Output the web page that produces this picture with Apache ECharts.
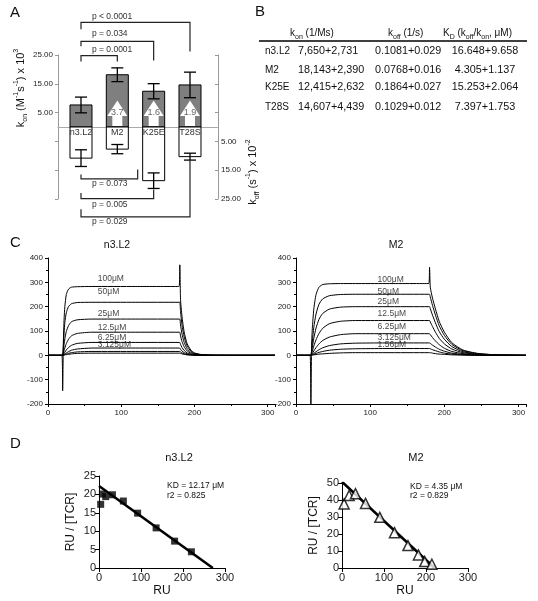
<!DOCTYPE html>
<html><head><meta charset="utf-8">
<script src="https://cdn.jsdelivr.net/npm/echarts@6/dist/echarts.min.js"></script>
<style>html,body{margin:0;padding:0;background:#fff}#c{width:538px;height:601px}</style>
</head><body><div id="c"></div>
<script>
// ================= DATA =================
// ---- Panel A: kinetic rates ----
const variants  = ['n3.L2', 'M2', 'K25E', 'T28S'];
const konMean   = [7.650, 18.143, 12.415, 14.607];   // x10^3 M^-1 s^-1
const konSD     = [2.731, 2.390, 2.632, 4.439];
const koffMean  = [10.81, 7.68, 18.64, 10.29];       // x10^-2 s^-1
const koffSD    = [2.9, 1.6, 2.7, 1.2];
const foldUp    = ['', '3.7', '1.6', '1.9'];
const konPairs  = [[0, 3, 'p < 0.0001'], [0, 2, 'p = 0.034'], [0, 1, 'p = 0.0001']];
const koffPairs = [[0, 1.56, 'p = 0.073'], [0, 2, 'p = 0.005'], [0, 3, 'p = 0.029']];

// ---- Panel B: table ----
const tableRows = ['n3.L2', 'M2', 'K25E', 'T28S'];
const konCol    = ['7,650+2,731', '18,143+2,390', '12,415+2,632', '14,607+4,439'];
const koffCol   = ['0.1081+0.029', '0.0768+0.016', '0.1864+0.027', '0.1029+0.012'];
const kdCol     = ['16.648+9.658', '4.305+1.137', '15.253+2.064', '7.397+1.753'];

// ---- Panel C: sensorgrams (time s, RU) ----
const tN3 = [0, 19, 20, 21, 22, 23, 25, 28, 32, 40, 60, 120, 179, 180, 181, 183, 186, 190, 195, 200, 210, 225, 250, 310];
const n3Curves = [
  [0, 0, -146, 60, 150, 200, 250, 272, 280, 282, 283, 283, 283, 372, 230, 160, 95, 48, 22, 10, 3, 1, 0, 0],
  [0, 0, 0, 40, 95, 135, 175, 200, 212, 217, 218, 218, 218, 218, 180, 125, 75, 38, 18, 8, 2, 0, 0, 0],
  [0, 0, 0, 20, 45, 68, 98, 122, 138, 146, 149, 149, 149, 149, 125, 88, 53, 27, 13, 6, 2, 0, 0, 0],
  [0, 0, 0, 8, 20, 30, 48, 66, 80, 90, 95, 95, 95, 95, 80, 57, 35, 18, 9, 4, 1, 0, 0, 0],
  [0, 0, 0, 4, 8, 13, 22, 32, 41, 49, 53, 53, 53, 53, 45, 32, 20, 10, 5, 2, 1, 0, 0, 0],
  [0, 0, 0, 2, 4, 6, 10, 15, 21, 26, 30, 30, 30, 30, 25, 18, 11, 6, 3, 1, 0, 0, 0, 0],
  [0, 0, 0, 1, 2, 3, 5, 8, 11, 14, 16, 16, 16, 16, 14, 10, 6, 3, 2, 1, 0, 0, 0, 0],
  [0, 0, 0, 0, 1, 2, 3, 4, 6, 8, 9, 9, 9, 9, 8, 6, 4, 2, 1, 0, 0, 0, 0, 0]
];
const n3Conc = ['100μM', '50μM', '25μM', '12.5μM', '6.25μM', '3.125μM'];

const tM2 = [0, 19, 20, 21, 22, 24, 27, 31, 36, 45, 60, 80, 120, 179, 180, 181, 184, 188, 193, 200, 210, 225, 245, 270, 310];
const m2Curves = [
  [0, 0, -230, 40, 110, 190, 250, 280, 291, 294, 295, 295, 295, 295, 362, 280, 235, 190, 140, 95, 52, 22, 8, 2, 0],
  [0, 0, 0, 20, 55, 115, 170, 210, 232, 245, 250, 251, 251, 251, 251, 240, 205, 165, 122, 82, 45, 19, 7, 2, 0],
  [0, 0, 0, 12, 32, 70, 112, 148, 172, 190, 198, 200, 200, 200, 200, 192, 165, 133, 98, 66, 36, 15, 5, 1, 0],
  [0, 0, 0, 6, 16, 38, 64, 90, 111, 130, 140, 143, 143, 143, 143, 137, 118, 95, 70, 47, 26, 11, 4, 1, 0],
  [0, 0, 0, 3, 7, 18, 32, 47, 61, 75, 85, 89, 89, 89, 89, 85, 73, 59, 44, 29, 16, 7, 2, 0, 0],
  [0, 0, 0, 1, 3, 8, 15, 23, 31, 40, 47, 50, 51, 51, 51, 49, 42, 34, 25, 17, 9, 4, 1, 0, 0],
  [0, 0, 0, 1, 2, 4, 8, 12, 16, 21, 25, 27, 28, 28, 28, 27, 23, 19, 14, 9, 5, 2, 1, 0, 0],
  [0, 0, 0, 0, 1, 2, 3, 5, 6, 8, 10, 11, 11, 11, 11, 11, 9, 7, 5, 4, 2, 1, 0, 0, 0]
];
const m2Conc = ['100μM', '50μM', '25μM', '12.5μM', '6.25μM', '3.125μM', '1.56μM'];

// ---- Panel D: Scatchard ----
const n3RU    = [4, 8, 16, 32, 58, 92, 136, 180, 220];
const n3Ratio = [17.3, 20.1, 19.4, 19.9, 18.2, 14.9, 10.9, 7.3, 4.4];
const n3Fit   = [[0, 22.3], [271, 0]];
const m2RU    = [5, 17, 32, 56, 90, 125, 157, 182, 197, 214];
const m2Ratio = [37.7, 42.7, 43.7, 38.0, 29.8, 20.8, 13.2, 7.7, 3.8, 2.2];
const m2Fit   = [[0, 50.7], [220.5, 0]];

// ================= LAYOUT (positions / styles) =================
const FONT = '"Liberation Sans", Arial, sans-serif';
const konLevels  = [{bar: 36.3, l: 33.9, r: 26.2, t: 38.4}, {bar: 29.7, l: 28.0, r: 23.1, t: 32.5}, {bar: 24.8, l: 22.7, r: 22.7, t: 26.7}];
const koffLevels = [{bar: -18.0, l: -16.5, r: -14.8, t: -19.6}, {bar: -24.9, l: -22.9, r: -21.7, t: -26.9}, {bar: -31.2, l: -28.6, r: -11.3, t: -32.8}];
const arrowGeom  = {tip: 9.2, base: 3.8, text: 5.0};
const n3LabelAt = {t: 68, y: [316, 261, 172, 115, 73, 43]};
const m2LabelAt = {t: 110, y: [311, 261, 219, 173, 116, 72, 42]};

const chart = echarts.init(document.getElementById('c'));

function T(x, y, text, size, extra) {
  const e = {type: 'text', x: x, y: y, silent: true, z: 100,
    style: {text: text, fontSize: size, fontFamily: FONT, fill: '#111', align: 'left', verticalAlign: 'middle'}};
  if (extra) { Object.assign(e.style, extra.style || {}); if (extra.rotation) e.rotation = extra.rotation; }
  return e;
}
const richBase = (n, s) => ({
  n: {fontSize: n, fontFamily: FONT, lineHeight: n + 5},
  sb: {fontSize: s, fontFamily: FONT, lineHeight: s + 1, verticalAlign: 'bottom'},
  sp: {fontSize: s, fontFamily: FONT, lineHeight: s + 1, verticalAlign: 'top'}
});

const graphics = [
  T(10, 13, 'A', 15), T(255, 12, 'B', 15), T(10, 243, 'C', 15), T(10, 444, 'D', 15),
  // Panel A axis titles
  T(21, 88, '{n|k}{sb|on}{n| (M}{sp|-1}{n|s}{sp|-1}{n|) x 10}{sp|3}', 11,
    {rotation: Math.PI / 2, style: {align: 'center', rich: richBase(11, 7)}}),
  T(253, 172, '{n|k}{sb|off}{n| (s}{sp|-1}{n|) x 10}{sp|-2}', 11,
    {rotation: Math.PI / 2, style: {align: 'center', rich: richBase(11, 7)}}),
  // Panel B headers
  T(290, 33, '{n|k}{sb|on}{n| (1/Ms)}', 10, {style: {rich: richBase(10, 7)}}),
  T(388, 33, '{n|k}{sb|off}{n| (1/s)}', 10, {style: {rich: richBase(10, 7)}}),
  T(443, 33, '{n|K}{sb|D}{n| (k}{sb|off}{n|/k}{sb|on}{n|, μM)}', 10, {style: {rich: richBase(10, 7)}}),
  {type: 'line', silent: true, shape: {x1: 259, y1: 41, x2: 527, y2: 41}, style: {stroke: '#000', lineWidth: 1.4}},
  // Panel C titles
  T(117, 245, 'n3.L2', 10.5, {style: {align: 'center'}}),
  T(396, 245, 'M2', 10.5, {style: {align: 'center'}}),
  // Panel D titles + annotations
  T(179, 458, 'n3.L2', 11, {style: {align: 'center'}}),
  T(416, 458, 'M2', 11, {style: {align: 'center'}}),
  T(167, 486, 'KD = 12.17 μM', 8.5), T(167, 495.5, 'r2 = 0.825', 8.5),
  T(410, 487, 'KD = 4.35 μM', 8.5), T(410, 496, 'r2 = 0.829', 8.5)
];
const rowY = [51, 70, 87, 107];
tableRows.forEach((r, i) => {
  graphics.push(T(265, rowY[i], r, 10));
  graphics.push(T(298, rowY[i], konCol[i], 10.8));
  graphics.push(T(375, rowY[i], koffCol[i], 10.8));
  graphics.push(T(485, rowY[i], kdCol[i], 10.8, {style: {align: 'center'}}));
});

const lbl = (size) => ({fontSize: size, fontFamily: FONT, color: '#222'});

// ---- Panel A custom series ----
function barRender(fill) {
  return function (params, api) {
    const x = api.value(0), v = api.value(1);
    const top = api.coord([x, v]), base = api.coord([x, 0]);
    return {type: 'rect', shape: {x: top[0] - 11, y: Math.min(top[1], base[1]), width: 22, height: Math.abs(base[1] - top[1])},
      style: {fill: fill, stroke: '#000', lineWidth: 1}};
  };
}
function errRender(params, api) {
  const x = api.value(0), m = api.value(1), s = api.value(2);
  const hi = api.coord([x, m + s]), lo = api.coord([x, m - s]);
  const st = {stroke: '#000', lineWidth: 1.3, fill: null};
  return {type: 'group', children: [
    {type: 'line', shape: {x1: hi[0], y1: hi[1], x2: lo[0], y2: lo[1]}, style: st},
    {type: 'line', shape: {x1: hi[0] - 6, y1: hi[1], x2: hi[0] + 6, y2: hi[1]}, style: st},
    {type: 'line', shape: {x1: lo[0] - 6, y1: lo[1], x2: lo[0] + 6, y2: lo[1]}, style: st}
  ]};
}
function arrowRender(params, api) {
  const i = api.value(0);
  const tip = api.coord([i, arrowGeom.tip]), hb = api.coord([i, arrowGeom.base]), z0 = api.coord([i, 0]), tx = api.coord([i, arrowGeom.text]);
  const cx = tip[0];
  return {type: 'group', children: [
    {type: 'polygon', shape: {points: [[cx, tip[1]], [cx + 10, hb[1]], [cx + 5, hb[1]], [cx + 5, z0[1] - 1], [cx - 5, z0[1] - 1], [cx - 5, hb[1]], [cx - 10, hb[1]]]},
      style: {fill: '#fff', stroke: null}},
    {type: 'text', x: cx, y: tx[1], style: {text: foldUp[i], fontSize: 9, fontFamily: FONT, fill: '#666', align: 'center', verticalAlign: 'middle'}}
  ]};
}
function catRender(params, api) {
  const i = api.value(0);
  const p = api.coord([i, -1.9]);
  return {type: 'text', x: p[0], y: p[1], style: {text: variants[i], fontSize: 9, fontFamily: FONT, fill: '#333', align: 'center', verticalAlign: 'middle'}};
}
function bracketRender(pairs, levels) {
  return function (params, api) {
    const k = api.value(0);
    const pr = pairs[k], lv = levels[k];
    const a1 = api.coord([pr[0], lv.l]), a2 = api.coord([pr[0], lv.bar]);
    const b2 = api.coord([pr[1], lv.bar]), b1 = api.coord([pr[1], lv.r]);
    const tp = api.coord([pr[0] + 0.3, lv.t]);
    return {type: 'group', children: [
      {type: 'polyline', shape: {points: [a1, a2, b2, b1]}, style: {stroke: '#222', lineWidth: 1.2, fill: null}},
      {type: 'text', x: tp[0], y: tp[1], style: {text: pr[2], fontSize: 8.5, fontFamily: FONT, fill: '#333', align: 'left', verticalAlign: 'middle'}}
    ]};
  };
}

const series = [
  {type: 'custom', xAxisIndex: 0, yAxisIndex: 0, z: 2, renderItem: barRender('#7f7f7f'), data: konMean.map((v, i) => [i, v])},
  {type: 'custom', xAxisIndex: 0, yAxisIndex: 0, z: 2, renderItem: barRender('#fff'), data: koffMean.map((v, i) => [i, -v])},
  {type: 'custom', xAxisIndex: 0, yAxisIndex: 0, z: 3, renderItem: arrowRender, data: foldUp.map((f, i) => [i]).filter(d => foldUp[d[0]])},
  {type: 'custom', xAxisIndex: 0, yAxisIndex: 0, z: 4, renderItem: errRender, data: konMean.map((v, i) => [i, v, konSD[i]]).concat(koffMean.map((v, i) => [i, -v, koffSD[i]]))},
  {type: 'custom', xAxisIndex: 0, yAxisIndex: 0, z: 4, renderItem: catRender, data: variants.map((v, i) => [i])},
  {type: 'custom', xAxisIndex: 0, yAxisIndex: 0, z: 4, renderItem: bracketRender(konPairs, konLevels), data: konPairs.map((p, i) => [i])},
  {type: 'custom', xAxisIndex: 0, yAxisIndex: 0, z: 4, renderItem: bracketRender(koffPairs, koffLevels), data: koffPairs.map((p, i) => [i])}
];

n3Curves.forEach((c) => series.push({type: 'line', xAxisIndex: 1, yAxisIndex: 2, symbol: 'none', smooth: 0.2,
  lineStyle: {color: '#000', width: 1}, data: tN3.map((t, k) => [t, c[k]])}));
m2Curves.forEach((c) => series.push({type: 'line', xAxisIndex: 2, yAxisIndex: 3, symbol: 'none', smooth: 0.2,
  lineStyle: {color: '#000', width: 1}, data: tM2.map((t, k) => [t, c[k]])}));
series.push({type: 'scatter', xAxisIndex: 1, yAxisIndex: 2, symbolSize: 0, z: 5,
  label: {show: true, position: 'right', distance: 0, formatter: '{b}', fontSize: 8.5, fontFamily: FONT, color: '#111'},
  data: n3Conc.map((s, i) => ({name: s, value: [n3LabelAt.t, n3LabelAt.y[i]]}))});
series.push({type: 'scatter', xAxisIndex: 2, yAxisIndex: 3, symbolSize: 0, z: 5,
  label: {show: true, position: 'right', distance: 0, formatter: '{b}', fontSize: 8.5, fontFamily: FONT, color: '#111'},
  data: m2Conc.map((s, i) => ({name: s, value: [m2LabelAt.t, m2LabelAt.y[i]]}))});

series.push({type: 'line', xAxisIndex: 3, yAxisIndex: 4, symbol: 'none', lineStyle: {color: '#000', width: 2.6}, data: n3Fit});
series.push({type: 'scatter', xAxisIndex: 3, yAxisIndex: 4, symbol: 'rect', symbolSize: 7, itemStyle: {color: '#000'}, z: 5,
  data: n3RU.map((x, i) => [x, n3Ratio[i]])});
series.push({type: 'line', xAxisIndex: 4, yAxisIndex: 5, symbol: 'none', lineStyle: {color: '#000', width: 2.6}, data: m2Fit});
series.push({type: 'scatter', xAxisIndex: 4, yAxisIndex: 5, symbol: 'triangle', symbolSize: 10, z: 5,
  itemStyle: {color: '#fff', borderColor: '#000', borderWidth: 1.5}, data: m2RU.map((x, i) => [x, m2Ratio[i]])});

const cX = (gi) => ({gridIndex: gi, type: 'value', min: 0, max: 310, interval: 100,
  axisLine: {show: true, onZero: false, lineStyle: {color: '#000', width: 1}},
  axisTick: {show: true, length: 3, lineStyle: {color: '#000'}},
  minorTick: {show: true, splitNumber: 2, length: 2, lineStyle: {color: '#000'}},
  axisLabel: Object.assign({margin: 5, showMaxLabel: false}, lbl(8)), splitLine: {show: false}});
const cY = (gi) => ({gridIndex: gi, type: 'value', min: -200, max: 400, interval: 100,
  axisLine: {show: true, onZero: false, lineStyle: {color: '#000', width: 1}},
  axisTick: {show: true, length: 3, lineStyle: {color: '#000'}},
  minorTick: {show: true, splitNumber: 2, length: 2, lineStyle: {color: '#000'}},
  axisLabel: Object.assign({margin: 5}, lbl(8)), splitLine: {show: false}});
const dX = (gi) => ({gridIndex: gi, type: 'value', min: 0, max: 300, interval: 100,
  name: 'RU', nameLocation: 'middle', nameGap: 17, nameTextStyle: {fontSize: 12, fontFamily: FONT, color: '#111'},
  axisLine: {show: true, onZero: false, lineStyle: {color: '#000', width: 1}},
  axisTick: {show: true, length: 4, lineStyle: {color: '#000'}},
  axisLabel: Object.assign({margin: 4}, lbl(11)), splitLine: {show: false}});
const dY = (gi, max, iv) => ({gridIndex: gi, type: 'value', min: 0, max: max, interval: iv,
  name: 'RU / [TCR]', nameLocation: 'middle', nameGap: 22, nameTextStyle: {fontSize: 12, fontFamily: FONT, color: '#111'},
  axisLine: {show: true, onZero: false, lineStyle: {color: '#000', width: 1}},
  axisTick: {show: true, length: 4, lineStyle: {color: '#000'}},
  axisLabel: Object.assign({margin: 3}, lbl(11)), splitLine: {show: false}});

chart.setOption({
  animation: false,
  backgroundColor: '#fff',
  textStyle: {fontFamily: FONT},
  grid: [
    {left: 58, top: 55, width: 160, height: 144},
    {left: 48, top: 258, width: 227, height: 146},
    {left: 296, top: 258, width: 230, height: 146},
    {left: 99, top: 476, width: 126, height: 92},
    {left: 342, top: 483, width: 126, height: 85}
  ],
  xAxis: [
    {gridIndex: 0, type: 'value', min: -0.633, max: 3.771,
      axisLine: {show: true, onZero: true, lineStyle: {color: '#aaa', width: 1.2}},
      axisTick: {show: false}, axisLabel: {show: false}, splitLine: {show: false}},
    cX(1), cX(2), dX(3), dX(4)
  ],
  yAxis: [
    {gridIndex: 0, type: 'value', position: 'left', min: -25, max: 25, interval: 10,
      axisLine: {show: true, onZero: false, lineStyle: {color: '#999', width: 1}},
      axisTick: {show: true, length: 3, lineStyle: {color: '#999'}},
      axisLabel: Object.assign({margin: 5, formatter: v => v > 0 ? v.toFixed(2) : ''}, lbl(8)), splitLine: {show: false}},
    {gridIndex: 0, type: 'value', position: 'right', min: -25, max: 25, interval: 10,
      axisLine: {show: true, onZero: false, lineStyle: {color: '#999', width: 1}},
      axisTick: {show: true, inside: true, length: 3, lineStyle: {color: '#999'}},
      axisLabel: Object.assign({margin: 3, formatter: v => v < 0 ? (-v).toFixed(2) : ''}, lbl(8)), splitLine: {show: false}},
    cY(1), cY(2), dY(3, 25, 5), dY(4, 50, 10)
  ],
  graphic: graphics,
  series: series
});
</script>
</body></html>
